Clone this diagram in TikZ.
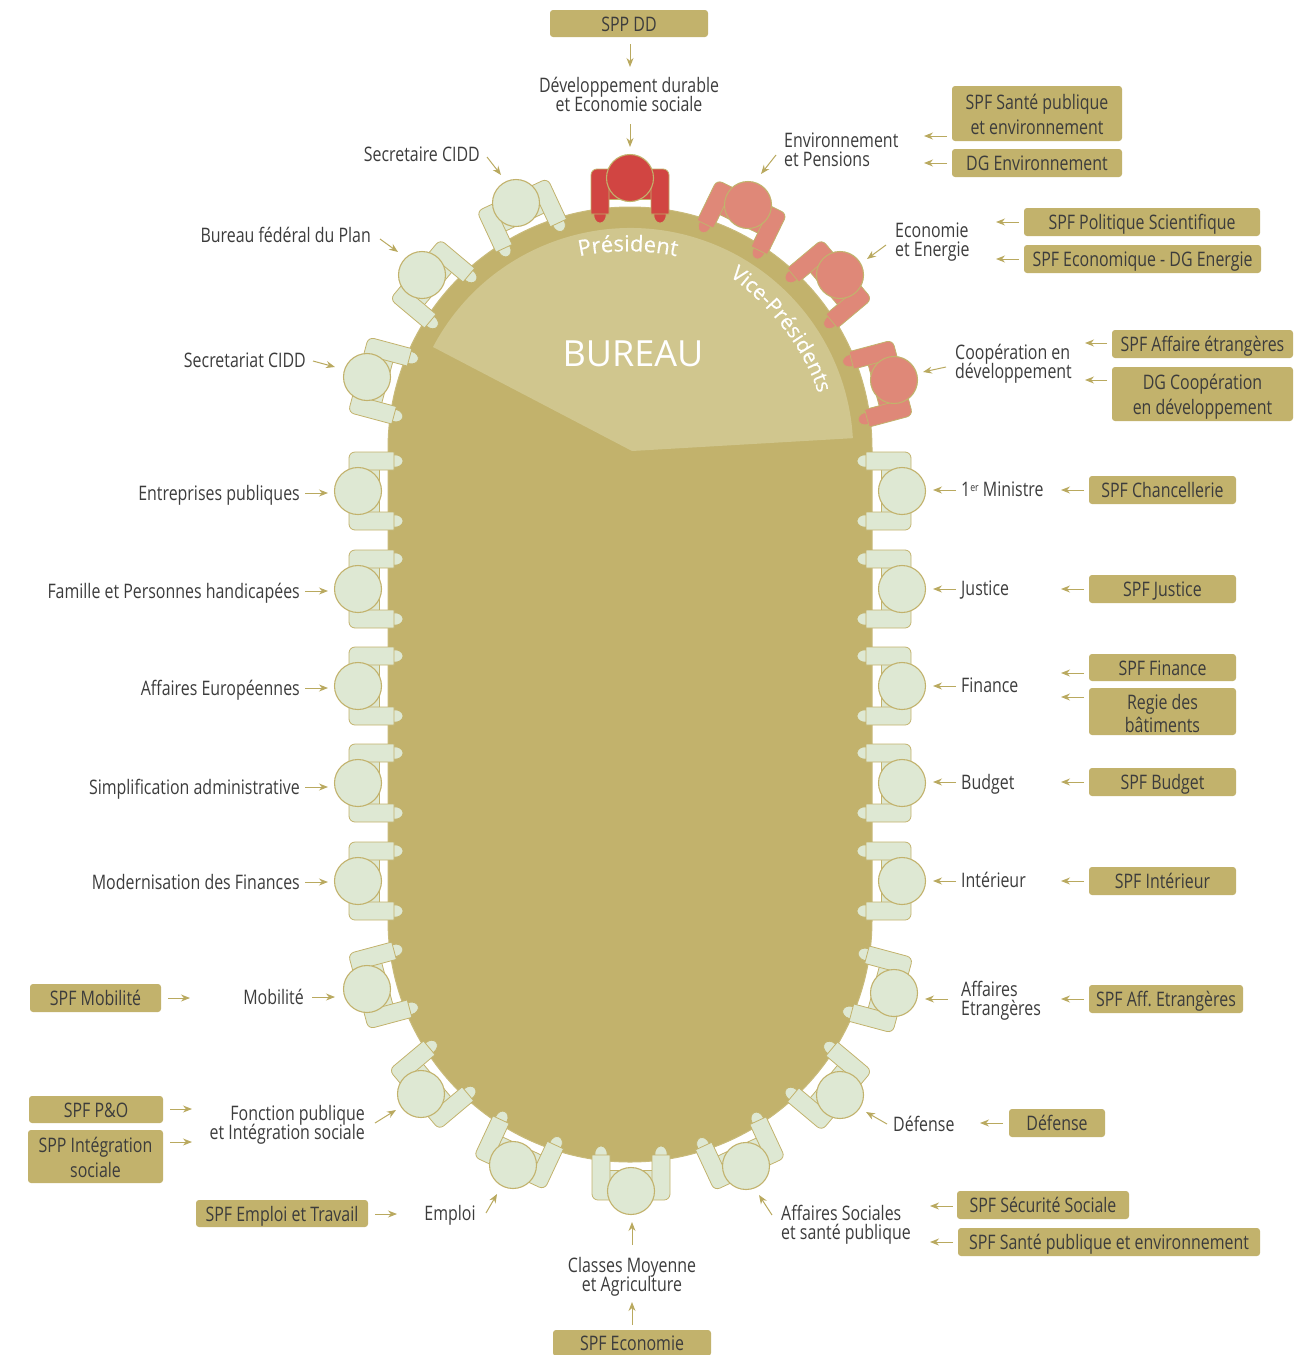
\documentclass[tikz,border=0pt]{standalone}
\usepackage{fontspec}
\setmainfont{Open Sans}
\newfontfamily\narrowf[FakeStretch=0.797]{Open Sans}
\newfontfamily\bigf{Open Sans}
\newfontfamily\midf[FakeBold=0.3]{Open Sans}
\usetikzlibrary{decorations.text,arrows.meta}
\definecolor{tablecol}{HTML}{C2B26C}
\definecolor{tableedge}{HTML}{C9BB7B}
\definecolor{sectorcol}{HTML}{D0C68E}
\definecolor{greencol}{HTML}{DEE8D3}
\definecolor{redcol}{HTML}{D14542}
\definecolor{salmoncol}{HTML}{DF8878}
\definecolor{inkcol}{HTML}{3C3C3C}
\definecolor{arrowcol}{HTML}{B9A95F}
\newcommand\tstart{\leavevmode\vrule width 0pt height 21pt\relax}
\newcommand\tend{\vrule width 0pt depth 5.5pt\relax}
\newcommand\tdown[1]{\vrule width 0pt height #1pt\relax}
\newcommand\boxfont{\narrowf\fontsize{20}{25}\selectfont\lineskiplimit=-100pt\relax}
\newcommand\labfont{\narrowf\fontsize{20}{19}\selectfont\lineskiplimit=-100pt\relax}
\tikzset{
  boxstyle/.style={fill=tablecol,rounded corners=3pt,inner xsep=0pt,inner ysep=-8pt,text=inkcol,align=center,font=\boxfont,execute at begin node=\tstart,execute at end node=\tend},
  labstyle/.style={inner sep=0pt,text=inkcol,font=\labfont,execute at begin node=\tstart,execute at end node=\tend},
  arrstyle/.style={draw=arrowcol,line width=1pt,-{Stealth[length=9pt,width=7pt]}},
  limb/.style={draw=tablecol,line width=.8pt},
  headstyle/.style={circle,draw=tablecol,line width=1.1pt,minimum size=47pt,inner sep=0pt},
}
\newcommand\bx[6]{\pgfmathsetmacro\bw{#4-#2}\pgfmathsetmacro\bh{#5-#3}\node[boxstyle,minimum width=\bw pt,minimum height=\bh pt] (#1) at ({(#2+#4)/2},{(#3+#5)/2}) {#6};}
\newcommand\arw[5]{\coordinate (#1s) at (#2,#3);\coordinate (#1e) at (#4,#5);\draw[arrstyle] (#1s) -- (#1e);}
\newcommand\person[5]{%
 \begin{scope}[shift={(#2,#3)},rotate=#4]
  \foreach \sgn in {-1,1}{
   \path[limb,fill=#5] (-37,\sgn*30) ellipse [x radius=8,y radius=6.2];
  }
  \path[limb,fill=#5] (-21,-22) rectangle (5,22);
  \foreach \sgn in {-1,1}{
   \path[limb,fill=#5] (-36,\sgn*21) -- (-36,\sgn*39) [rounded corners=6pt] -- (9,\sgn*39) [sharp corners] -- (9,\sgn*21) -- cycle;
  }
  \node[headstyle,fill=#5] (#1) at (0,0) {};
 \end{scope}}
\begin{document}
\begin{tikzpicture}[x=1pt,y=-1pt]
\useasboundingbox (0,0) rectangle (1300,1355);
% table
\path[fill=tablecol,draw=tableedge,line width=1pt] (388,449) arc[start angle=-180,end angle=0,radius=242] -- (872,920) arc[start angle=0,end angle=180,radius=242] -- cycle;
\path[fill=sectorcol] (632,451) -- (433,347) arc[start angle=-152.2,end angle=-3.3,radius=223] -- cycle;
\node[inner sep=0pt,text=white,font=\bigf\fontsize{36}{36}\selectfont] (bureau) at (633,354) {BUREAU};
\path[postaction={decorate},decoration={text along path,text align=center,text={|\midf\fontsize{22}{22}\selectfont\color{white}|Président}}] (572,258) .. controls (608,249) and (648,249) .. (684,258);
\path[postaction={decorate},decoration={text along path,text align=center,text={|\midf\fontsize{21}{21}\selectfont\color{white}|Vice-Présidents}}] (724,272) .. controls (768,303) and (806,348) .. (820,400);
% people
\person{pres}{630}{178}{90}{redcol}
\person{vpa}{748}{205}{64}{salmoncol}
\person{vpb}{840}{275}{40}{salmoncol}
\person{vpc}{894}{380}{15}{salmoncol}
\person{secr}{516}{203}{115}{greencol}
\person{plan}{422}{275}{140}{greencol}
\person{secc}{367}{377}{165}{greencol}
\person{ra}{902}{491}{0}{greencol}
\person{rb}{902}{589}{0}{greencol}
\person{rc}{902}{686}{0}{greencol}
\person{rd}{902}{783}{0}{greencol}
\person{re}{902}{881}{0}{greencol}
\person{la}{358}{491}{180}{greencol}
\person{lb}{358}{589}{180}{greencol}
\person{lc}{358}{686}{180}{greencol}
\person{ld}{358}{783}{180}{greencol}
\person{le}{358}{881}{180}{greencol}
\person{mob}{367}{989}{195}{greencol}
\person{aff}{894}{993}{345}{greencol}
\person{fon}{421}{1094}{220}{greencol}
\person{dfs}{840}{1095}{320}{greencol}
\person{emp}{513}{1165}{245}{greencol}
\person{soc}{746}{1166}{295}{greencol}
\person{cla}{631}{1191}{270}{greencol}
% top
\bx{bdd}{550}{10}{708}{37}{SPP DD}
\arw{a1}{630}{44}{630}{67}
\node[labstyle,align=center] (tdd) at (629,97.5) {Développement durable\\et Economie sociale};
\arw{a2}{630}{124}{630}{147}
% upper left
\node[labstyle,anchor=east] (tsec) at (480,154) {Secretaire CIDD};
\arw{a3}{487}{157}{501}{175}
\node[labstyle,anchor=east] (tplan) at (371,235) {Bureau fédéral du Plan};
\arw{a4}{380}{239}{398}{252}
\node[labstyle,anchor=east] (tscc) at (306,360) {Secretariat CIDD};
\arw{a5}{313}{361}{335}{367}
% left column
\node[labstyle,anchor=east] (tla) at (300,493) {Entreprises publiques};
\arw{a6}{305}{493}{328}{493}
\node[labstyle,anchor=east] (tlb) at (300,591) {Famille et Personnes handicapées};
\arw{a7}{305}{591}{328}{591}
\node[labstyle,anchor=east] (tlc) at (300,688) {Affaires Européennes};
\arw{a8}{305}{688}{328}{688}
\node[labstyle,anchor=east] (tld) at (300,787) {Simplification administrative};
\arw{a9}{305}{787}{328}{787}
\node[labstyle,anchor=east] (tle) at (300,882) {Modernisation des Finances};
\arw{a10}{305}{882}{328}{882}
% lower left
\node[labstyle,anchor=east] (tmob) at (304,997) {Mobilité};
\arw{a11}{312}{997}{335}{997}
\bx{bmob}{30}{984}{161}{1012}{SPF Mobilité}
\arw{a12}{168}{998}{190}{998}
\bx{bpo}{29}{1096}{163}{1123}{SPF P\&O}
\arw{a13}{170}{1109}{192}{1109}
\bx{bint}{28}{1130}{163}{1183}{\tdown{22.5}SPP Intégration\\sociale}
\arw{a14}{170}{1142}{192}{1142}
\node[labstyle,anchor=east,align=right] (tfon) at (365,1125.5) {Fonction publique\\et Intégration sociale};
\arw{a15}{375}{1123}{396}{1110}
\bx{bemp}{196}{1200}{368}{1227}{SPF Emploi et Travail}
\arw{a16}{375}{1214}{397}{1214}
\node[labstyle] (temp) at (450,1213) {Emploi};
\arw{a17}{486}{1213}{497}{1194}
% bottom
\node[labstyle,align=center] (tcla) at (632,1277.5) {Classes Moyenne\\et Agriculture};
\arw{a18}{632}{1245}{632}{1222}
\bx{beco}{553}{1330}{711}{1356}{SPF Economie}
\arw{a19}{632}{1325}{632}{1302}
% lower right
\node[labstyle,anchor=west,align=left] (tsoc) at (781,1225.5) {Affaires Sociales\\et santé publique};
\arw{a20}{772}{1215}{759}{1195}
\bx{bsec}{957}{1191}{1129}{1219}{SPF Sécurité Sociale}
\arw{a21}{953}{1206}{930}{1206}
\bx{bsan}{958}{1228}{1260}{1256}{SPF Santé publique et environnement}
\arw{a22}{953}{1242}{930}{1242}
\node[labstyle,anchor=west] (tdef) at (893,1124) {Défense};
\arw{a23}{887}{1124}{866}{1112}
\bx{bdef}{1009}{1109}{1105}{1137}{Défense}
\arw{a24}{1003}{1123}{980}{1123}
\node[labstyle,anchor=west,align=left] (taff) at (961,1001.5) {Affaires\\Etrangères};
\arw{a25}{948}{999}{925}{999}
\bx{baff}{1089}{985}{1243}{1013}{SPF Aff.\ Etrangères}
\arw{a26}{1084}{999}{1061}{999}
% right column
\node[labstyle,anchor=west] (tre) at (961,880) {Intérieur};
\arw{a27}{956}{881}{933}{881}
\bx{bre}{1089}{867}{1236}{895}{SPF Intérieur}
\arw{a28}{1084}{881}{1061}{881}
\node[labstyle,anchor=west] (trd) at (961,782) {Budget};
\arw{a29}{956}{782}{933}{782}
\bx{brd}{1089}{768}{1236}{796}{SPF Budget}
\arw{a30}{1084}{782}{1061}{782}
\node[labstyle,anchor=west] (trc) at (961,685) {Finance};
\arw{a31}{956}{686}{933}{686}
\bx{brc}{1089}{654}{1236}{681}{SPF Finance}
\arw{a32}{1084}{673}{1061}{673}
\bx{brg}{1089}{688}{1236}{735}{\tdown{24}Regie des\\[-2pt]bâtiments}
\arw{a33}{1084}{697}{1061}{697}
\node[labstyle,anchor=west] (trb) at (961,588) {Justice};
\arw{a34}{956}{589}{933}{589}
\bx{brb}{1089}{575}{1236}{603}{SPF Justice}
\arw{a35}{1084}{589}{1061}{589}
\node[labstyle,anchor=west] (tra) at (961,489) {1\raisebox{5pt}{\fontsize{11}{11}\selectfont er} Ministre};
\arw{a36}{956}{490}{933}{490}
\bx{bra}{1089}{476}{1236}{504}{SPF Chancellerie}
\arw{a37}{1084}{490}{1061}{490}
% upper right
\node[labstyle,anchor=west,align=left] (tcoo) at (955,364.5) {Coopération en\\développement};
\arw{a38}{946}{367}{923}{372}
\bx{bcoa}{1112}{330}{1293}{358}{SPF Affaire étrangères}
\arw{a39}{1107}{343}{1085}{343}
\bx{bcob}{1112}{367}{1293}{421}{\tdown{21.5}DG Coopération\\en développement}
\arw{a40}{1107}{380}{1085}{380}
\node[labstyle,anchor=west,align=left] (teco) at (895,242.5) {Economie\\et Energie};
\arw{a41}{886}{245}{867}{259}
\bx{beca}{1024}{208}{1260}{236}{SPF Politique Scientifique}
\arw{a42}{1019}{222}{996}{222}
\bx{becb}{1024}{245}{1261}{273}{SPF Economique - DG Energie}
\arw{a43}{1019}{259}{996}{259}
\node[labstyle,anchor=west,align=left] (tenv) at (784,152.5) {Environnement\\et Pensions};
\arw{a44}{776}{155}{761}{174}
\bx{bena}{952}{86}{1122}{141}{\tdown{22.5}SPF Santé publique\\et environnement}
\arw{a45}{947}{136}{924}{136}
\bx{benb}{952}{149}{1122}{177}{DG Environnement}
\arw{a46}{947}{163}{924}{163}
\end{tikzpicture}
\end{document}
